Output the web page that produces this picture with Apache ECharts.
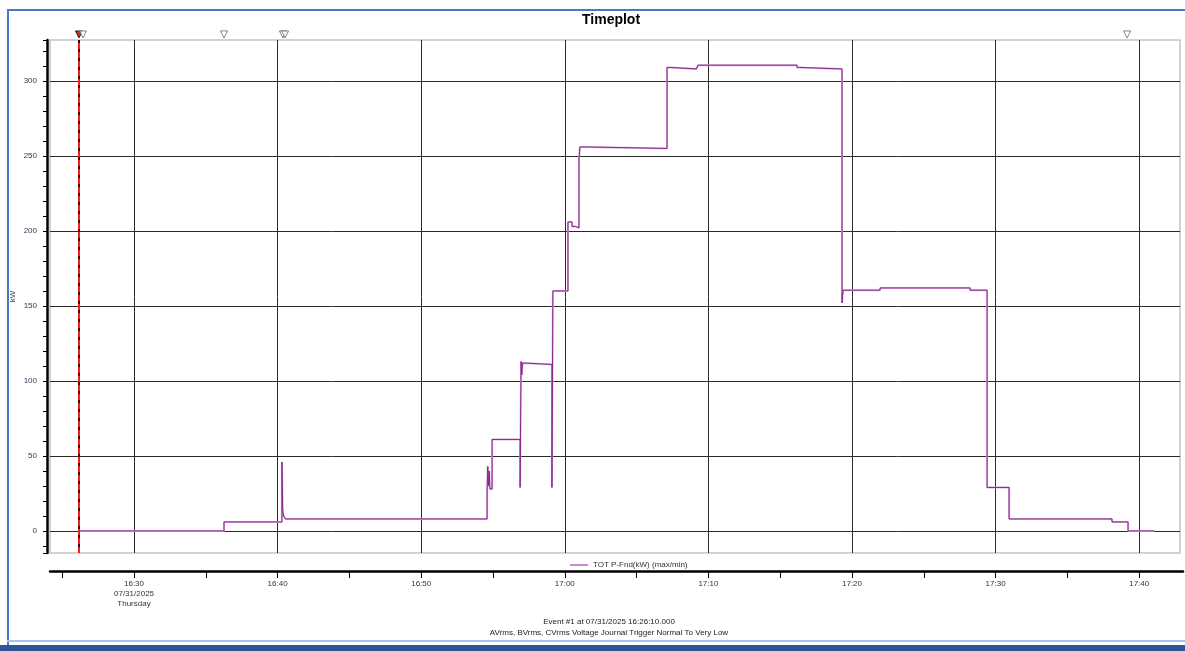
<!DOCTYPE html>
<html>
<head>
<meta charset="utf-8">
<script src="https://cdn.jsdelivr.net/npm/echarts@6/dist/echarts.min.js"></script>
<style>
html,body{margin:0;padding:0;background:#fff}
#main{width:1185px;height:651px}
</style>
</head>
<body>
<div id="main"></div>
<script>
// timeplot of TOT P-Fnd (kW), 07/31/2025
const day = '2025-07-31';
const times = ['16:26:10','16:36:16','16:40:18','16:40:21','16:40:25','16:40:33',
  '16:54:35','16:54:38','16:54:41','16:54:44','16:54:47','16:54:56',
  '16:56:53','16:56:57','16:57:00','16:57:03','16:57:10',
  '16:59:06','16:59:10','17:00:13','17:00:30','17:00:45','17:00:59','17:01:03','17:01:30',
  '17:07:07','17:07:20','17:09:10','17:09:16','17:16:10','17:16:20',
  '17:19:18','17:19:22','17:21:57','17:28:13','17:29:24','17:30:56',
  '17:38:06','17:39:13','17:41:02'];
const kw = [0,6,46,14,10,8,
  26,43,30,40,28,61,
  29,113,104,112,111,
  29,160,206,203,202,248,256,255,
  309,308,309,310.5,309,308,
  152,160.5,162,160.5,29,8,
  6,0,0];
const markerTimes = ['16:26:10','16:26:27','16:36:16','16:40:22','16:40:31','17:39:09'];
const markerFilled = [true,false,false,false,false,false];
const eventTime = '16:26:10';
const origin = '16:30:00';
const xStart = '16:24:09';
const xEnd = '17:42:50';
const xEndBottom = '17:43:03';
const yMin = -14.7, yMax = 327.3;
const seriesName = 'TOT P-Fnd(kW) (max/min)';

// minutes from 16:30
const M = s => (new Date(day + 'T' + s) - new Date(day + 'T' + origin)) / 60000;
const font = 'Liberation Sans, Arial, sans-serif';

const chart = echarts.init(document.getElementById('main'));
const line = times.map((t, i) => [M(t), kw[i]]);

function bottomLabel(v) {
    const total = Math.round(v) + 16 * 60 + 30;
    const h = Math.floor(total / 60), m = total % 60;
    if (m % 10 !== 0) return '';
    const hm = h + ':' + String(m).padStart(2, '0');
    if (h === 16 && m === 30) return hm + '\n07/31/2025\nThursday';
    return hm;
}

let option = {
    animation: false,
    title: {
        text: 'Timeplot', left: 577, top: 8,
        textStyle: {fontFamily: font, fontSize: 14, fontWeight: 'bold', color: '#000'}
    },
    legend: {
        data: [seriesName], left: 565, top: 556,
        icon: 'rect', itemWidth: 18, itemHeight: 2,
        itemStyle: {color: '#c98bd0'},
        textStyle: {fontFamily: font, fontSize: 8, color: '#333'}
    },
    grid: [
        {left: 50, right: 5, top: 40, bottom: 98, outerBoundsMode: 'none',
            show: true, borderColor: '#c4c4c4', borderWidth: 1.5},
        {left: 50, right: 2, top: 570, height: 1, outerBoundsMode: 'none'}
    ],
    xAxis: [
        {
            type: 'value', gridIndex: 0, min: M(xStart), max: M(xEnd), splitNumber: 8,
            axisLine: {show: false, onZero: false}, axisTick: {show: false}, axisLabel: {show: false},
            splitLine: {show: true, showMinLine: false, showMaxLine: false, lineStyle: {color: '#2a2a2a', width: 1}}
        },
        {
            type: 'value', gridIndex: 1, position: 'bottom', min: M(xStart), max: M(xEndBottom), splitNumber: 16,
            axisLine: {show: true, onZero: false, lineStyle: {color: '#000', width: 2.5}},
            axisTick: {show: true, length: 7, lineStyle: {color: '#000', width: 1}},
            axisLabel: {
                show: true, showMinLabel: false, showMaxLabel: false,
                margin: 8, formatter: bottomLabel,
                fontFamily: font, fontSize: 8, color: '#333', lineHeight: 10
            },
            splitLine: {show: false}
        }
    ],
    yAxis: [
        {
            type: 'value', gridIndex: 0, min: yMin, max: yMax, splitNumber: 7, offset: 3,
            name: 'kW', nameLocation: 'middle', nameGap: 30, nameRotate: 90, nameMoveOverlap: false,
            nameTextStyle: {fontFamily: font, fontSize: 8, color: '#2b3a55'},
            axisLine: {show: true, onZero: false, lineStyle: {color: '#000', width: 2.5}},
            axisTick: {show: true, length: 4, lineStyle: {color: '#000'}},
            minorTick: {show: true, splitNumber: 5, length: 4, lineStyle: {color: '#000'}},
            axisLabel: {showMinLabel: false, showMaxLabel: false, margin: 10,
                fontFamily: font, fontSize: 8, color: '#2b3a55'},
            splitLine: {show: true, showMinLine: false, showMaxLine: false, lineStyle: {color: '#2a2a2a', width: 1}}
        },
        {type: 'value', gridIndex: 1, show: false}
    ],
    graphic: [
        {type: 'rect', shape: {x: 7, y: 9, width: 1178, height: 2}, style: {fill: '#4a78c8'}},
        {type: 'rect', shape: {x: 7, y: 9, width: 2, height: 636}, style: {fill: '#4a78c8'}},
        {type: 'rect', shape: {x: 7, y: 640, width: 1178, height: 2}, style: {fill: '#a9c3e6'}},
        {type: 'rect', shape: {x: 0, y: 645, width: 1185, height: 6}, style: {fill: '#2e5597'}},
        {type: 'text', style: {x: 609, y: 616, textAlign: 'center', fill: '#222',
            font: '8px ' + font, lineHeight: 11,
            text: 'Event #1 at 07/31/2025 16:26:10.000\nAVrms, BVrms, CVrms Voltage Journal Trigger Normal To Very Low'}}
    ],
    series: [
        {
            name: seriesName, type: 'line', step: 'end', symbol: 'none', data: line,
            color: '#c98bd0', lineStyle: {color: '#ddb0e0', width: 2},
            markLine: {
                silent: true, symbol: 'none', label: {show: false},
                data: [
                    {xAxis: M(eventTime), lineStyle: {color: '#400', type: 'solid', width: 2}},
                    {xAxis: M(eventTime), lineStyle: {color: '#ff1a1a', type: [6, 3], width: 2}}
                ]
            }
        },
        {
            name: seriesName, type: 'line', step: 'end', symbol: 'none', data: line,
            color: '#c98bd0', lineStyle: {color: '#86268a', width: 1}
        },
        {
            type: 'scatter', clip: false, silent: true, symbol: 'triangle', symbolRotate: 180, symbolSize: 7,
            data: markerTimes.map((t, i) => ({
                value: [M(t), 331],
                itemStyle: markerFilled[i] ? {color: '#c00000', borderColor: '#000', borderWidth: 1}
                    : {color: '#fff', borderColor: '#666', borderWidth: 1}
            })),
            z: 10
        }
    ]
};
chart.setOption(option);
</script>
</body>
</html>
